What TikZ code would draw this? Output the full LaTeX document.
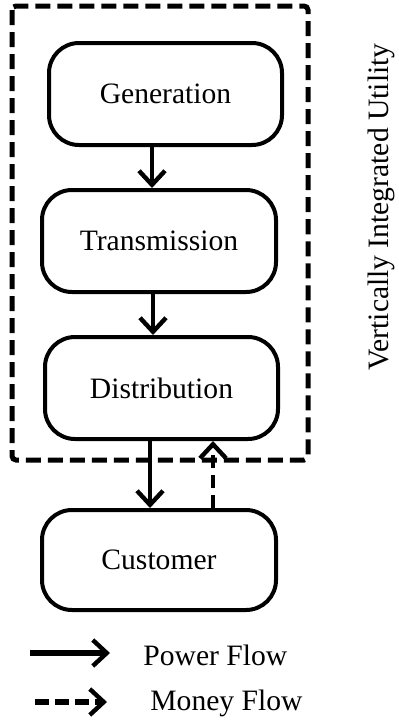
\documentclass[tikz,border=0pt]{standalone}
\usepackage{fontspec}
\setmainfont{Liberation Serif}
\usetikzlibrary{arrows.meta}
\begin{document}
\begin{tikzpicture}[x=0.5pt,y=-0.5pt,
  stagebox/.style={draw=black, line width=2pt, rounded corners=15pt, fill=white,
    inner sep=0pt, font=\fontsize{14.8}{17}\selectfont},
  pf/.style={line width=2pt, -{Straight Barb[length=7pt,width=13pt,line width=2.2pt]}},
  mf/.style={line width=2pt, dash pattern=on 6.5pt off 3.5pt, -{Straight Barb[length=7pt,width=13pt,line width=2.2pt]}},
  lbl/.style={font=\fontsize{14.8}{17}\selectfont, inner sep=0pt},
  outerbox/.style={line width=2.5pt, dash pattern=on 7.5pt off 3.5pt, rounded corners=2pt}
]
\useasboundingbox (0,0) rectangle (398,723);
\draw[outerbox] (12,6) rectangle (308,460);
\node[stagebox, minimum width=233*0.5pt, minimum height=102*0.5pt] (gen) at (165.5,94) {Generation};
\node[stagebox, minimum width=234*0.5pt, minimum height=102*0.5pt] (trans) at (159,241) {Transmission};
\node[stagebox, minimum width=233*0.5pt, minimum height=102*0.5pt] (dist) at (161.5,388) {Distribution};
\node[stagebox, minimum width=234*0.5pt, minimum height=100*0.5pt] (cust) at (159,560) {Customer};
\draw[pf] (gen.south -| 152,0) -- (trans.north -| 152,0);
\draw[pf] (trans.south -| 153,0) -- (dist.north -| 153,0);
\draw[pf] (dist.south -| 150,0) -- (cust.north -| 150,0);
\draw[mf] (cust.north -| 213,0) -- (dist.south -| 213,0);
\node[lbl, rotate=90] (vlabel) at (381,207) {Vertically Integrated Utility};
\coordinate (pa) at (30,653);
\coordinate (pb) at (110,653);
\coordinate (ma) at (35,702);
\coordinate (mb) at (107,702);
\draw[pf, line width=2.8pt] (pa) -- (pb);
\draw[mf, line width=2.8pt, dash pattern=on 7pt off 3pt] (ma) -- (mb);
\node[lbl, anchor=west] (ptext) at (143,655) {Power Flow};
\node[lbl, anchor=west] (mtext) at (150,703) {Money Flow};
\end{tikzpicture}
\end{document}
